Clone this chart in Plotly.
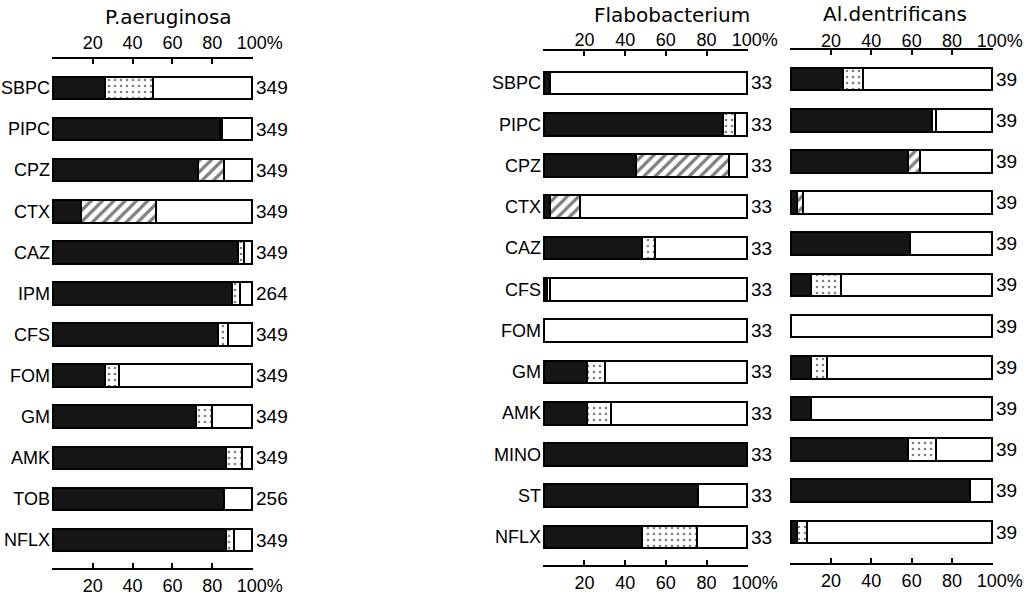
import plotly.graph_objects as go

# ---------------- data (percent of isolates) ----------------
pa_cats = ["SBPC", "PIPC", "CPZ", "CTX", "CAZ", "IPM", "CFS", "FOM", "GM", "AMK", "TOB", "NFLX"]
pa_s = [26, 84, 73, 14, 93, 90, 83, 26, 72, 87, 86, 87]
pa_dot = [24, 1, 0, 0, 3, 4, 5, 7, 8, 8, 0, 4]
pa_hatch = [0, 0, 13, 38, 0, 0, 0, 0, 0, 0, 0, 0]
pa_r = [50, 15, 14, 48, 4, 6, 12, 67, 20, 5, 14, 9]
pa_n = [349, 349, 349, 349, 349, 264, 349, 349, 349, 349, 256, 349]

fl_cats = ["SBPC", "PIPC", "CPZ", "CTX", "CAZ", "CFS", "FOM", "GM", "AMK", "MINO", "ST", "NFLX"]
fl_s = [3, 88, 45.5, 3, 48.5, 1.5, 0, 21, 21, 100, 76, 48.5]
fl_dot = [0, 6, 0, 0, 6, 1.5, 0, 9, 12, 0, 0, 27]
fl_hatch = [0, 0, 45.5, 15, 0, 0, 0, 0, 0, 0, 0, 0]
fl_r = [97, 6, 9, 82, 45.5, 97, 100, 70, 67, 0, 24, 24.5]
fl_n = [33, 33, 33, 33, 33, 33, 33, 33, 33, 33, 33, 33]

al_s = [26, 70, 58, 3, 59, 10, 0, 10, 10, 58, 89, 3]
al_dot = [10, 2, 0, 0, 0, 15, 0, 8, 0, 14, 0, 5]
al_hatch = [0, 0, 6, 3, 0, 0, 0, 0, 0, 0, 0, 0]
al_r = [64, 28, 36, 94, 41, 75, 100, 82, 90, 28, 11, 92]
al_n = [39, 39, 39, 39, 39, 39, 39, 39, 39, 39, 39, 39]

titles = ["P.aeruginosa", "Flabobacterium", "Al.dentrificans"]
tick_vals = [0, 20, 40, 60, 80, 100]
tick_text = ["", "20", "40", "60", "80", "\u00a0\u00a0\u00a0100%"]

# ---------------- styling ----------------
W, H = 1036, 596
BLACK = "#151515"
FONT = "Liberation Sans"
LINE = dict(color="black", width=2)


def nz(v):
    return [x if x else None for x in v]


panels = [
    dict(cats=pa_cats, s=pa_s, dot=pa_dot, hatch=pa_hatch, r=pa_r, n=pa_n,
         px=(52, 253), top=59, bot=568, c0=88, c11=540, labels=True,
         title_x=168, title_y=17, top_off=5),
    dict(cats=fl_cats, s=fl_s, dot=fl_dot, hatch=fl_hatch, r=fl_r, n=fl_n,
         px=(543, 748), top=51, bot=565, c0=83, c11=537, labels=True,
         title_x=672, title_y=15, top_off=0),
    dict(cats=fl_cats, s=al_s, dot=al_dot, hatch=al_hatch, r=al_r, n=al_n,
         px=(790, 993), top=50, bot=563, c0=79, c11=532, labels=False,
         title_x=895, title_y=14, top_off=-2),
]

fig = go.Figure()
layout = dict(
    width=W, height=H, margin=dict(l=0, r=0, t=0, b=0, autoexpand=False),
    paper_bgcolor="white", plot_bgcolor="white",
    barmode="stack", showlegend=False,
    font=dict(family=FONT, size=18, color="black"),
)
annotations = []

for i, p in enumerate(panels):
    xb = "x" if i == 0 else f"x{2 * i + 1}"
    xt = f"x{2 * i + 2}"
    xt_name = f"xaxis{2 * i + 2}"
    xb_name = "xaxis" if i == 0 else f"xaxis{2 * i + 1}"
    yname = "y" if i == 0 else f"y{i + 1}"
    yax_name = "yaxis" if i == 0 else f"yaxis{i + 1}"

    segs = [
        (p["s"], dict(color=BLACK, line=LINE)),
        (p["dot"], dict(color="white", line=LINE,
                        pattern=dict(shape=".", fgcolor="black", bgcolor="white",
                                     size=6, solidity=0.15))),
        (p["hatch"], dict(color="white", line=LINE,
                          pattern=dict(shape="/", fgcolor="black", bgcolor="white",
                                       size=8, solidity=0.4))),
        (p["r"], dict(color="white", line=LINE)),
    ]
    for vals, marker in segs:
        fig.add_trace(go.Bar(
            x=nz(vals), y=p["cats"], orientation="h", width=0.55,
            marker=marker, xaxis=xb, yaxis=yname, hoverinfo="skip",
        ))
    # invisible helper so that the top (label) axis gets drawn
    fig.add_trace(go.Scatter(x=[0, 100], y=[p["cats"][0], p["cats"][0]],
                             mode="markers", marker=dict(opacity=0),
                             xaxis=xt, yaxis=yname, hoverinfo="skip"))

    x0 = p["px"][0] / W
    x1 = p["px"][1] / W
    spacing = (p["c11"] - p["c0"]) / 11.0
    r_top = (p["top"] - p["c0"]) / spacing
    r_bot = 11 + (p["bot"] - p["c11"]) / spacing

    common = dict(range=[-0.4, 100.4], tickvals=tick_vals, ticktext=tick_text,
                  tickangle=0,
                  showgrid=False, zeroline=False, fixedrange=True, automargin=False,
                  tickfont=dict(family=FONT, size=18, color="black"))
    layout[xb_name] = dict(domain=[x0, x1], anchor=yname, side="bottom",
                           showline=True, linecolor="black", linewidth=1.5,
                           mirror="allticks",
                           ticks="inside", ticklen=5, tickwidth=1.5, tickcolor="black",
                           ticklabelstandoff=1, **common)
    layout[xt_name] = dict(domain=[x0, x1], overlaying=xb, anchor=yname, side="top",
                           showline=False, ticks="",
                           ticklabelstandoff=p["top_off"], **common)
    layout[yax_name] = dict(domain=[1 - p["bot"] / H, 1 - p["top"] / H],
                            anchor=xb, type="category", automargin=False,
                            categoryorder="array", categoryarray=p["cats"],
                            range=[r_bot, r_top], showline=False, showgrid=False,
                            zeroline=False, ticks="", showticklabels=p["labels"],
                            ticklabelstandoff=1, fixedrange=True,
                            tickfont=dict(family=FONT, size=18, color="black"))

    for cat, n in zip(p["cats"], p["n"]):
        annotations.append(dict(x=100, y=cat, xref=xb, yref=yname, text=str(n),
                                showarrow=False, xanchor="left", xshift=2,
                                font=dict(family=FONT, size=19, color="black")))
    annotations.append(dict(x=p["title_x"] / W, y=1 - p["title_y"] / H,
                            xref="paper", yref="paper", text=titles[i],
                            showarrow=False, xanchor="center", yanchor="middle",
                            font=dict(family="DejaVu Sans", size=20, color="black")))

layout["annotations"] = annotations
fig.update_layout(**layout)
fig.write_html("out.html", config={"displayModeBar": False},
               post_script="document.body.style.margin='0';document.body.style.overflow='hidden';")
